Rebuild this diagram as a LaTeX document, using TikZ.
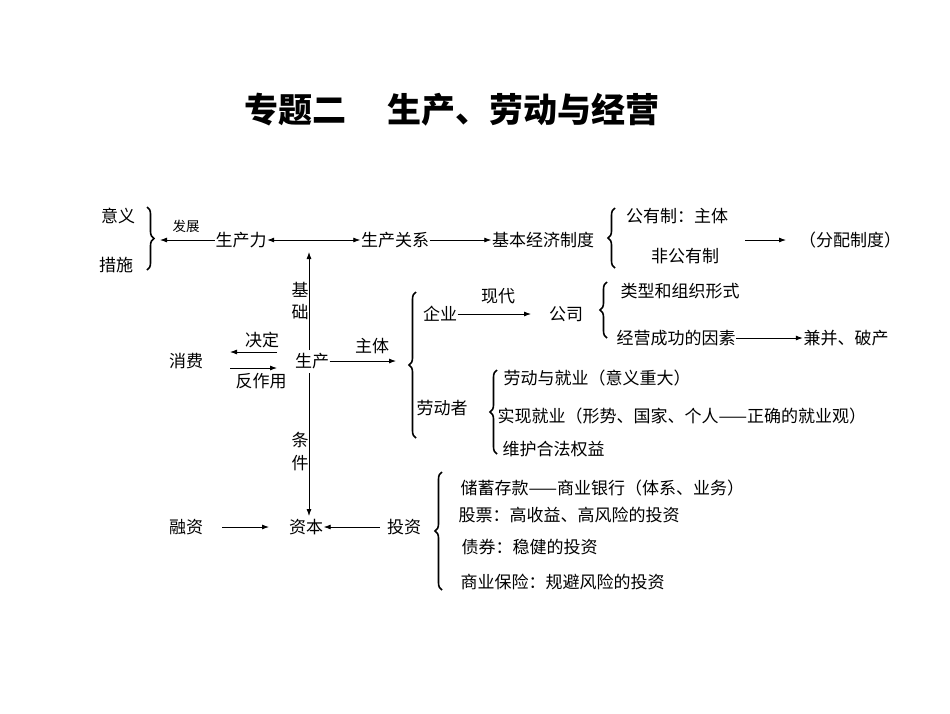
\documentclass[tikz,border=0pt]{standalone}
\usepackage{fontspec}
\setmainfont{Noto Sans CJK SC}
\usetikzlibrary{arrows.meta,decorations.pathreplacing}
\begin{document}
\begin{tikzpicture}[x=1pt,y=-1pt,
  t/.style={font=\fontsize{17}{19}\selectfont,inner sep=0.5pt},
  lt/.style={t,anchor=west},
  sm/.style={font=\fontsize{13.5}{15}\selectfont,inner sep=1pt},
  ar/.style={line width=0.8pt,-{Latex[length=7pt,width=5pt]}},
  da/.style={line width=0.8pt,{Latex[length=7pt,width=5pt]}-{Latex[length=7pt,width=5pt]}},
  br/.style={line width=1.6pt,decorate,decoration={brace,amplitude=7pt}}]
\useasboundingbox (0,0) rectangle (950,713);
\node[font=\fontsize{34}{38}\selectfont\bfseries] (title) at (452,110) {专题二\hspace{1.2em}生产、劳动与经营};
% top row
\node[t] (yy) at (118,216) {意义};
\node[t] (cs) at (116,265) {措施};
\draw[br] (147,207) -- (147,270);
\coordinate (b1) at (160,240);
\node[t] (scl) at (241,240) {生产力};
\draw[ar] (scl.west) -- (b1);
\node[sm] (fz) at (186,226) {发展};
\node[t] (scgx) at (395,240) {生产关系};
\draw[da] (scl.east) -- (scgx.west);
\node[t] (jb) at (543,240) {基本经济制度};
\draw[ar] (scgx.east) -- (jb.west);
\draw[br] (615,268) -- (615,208);
\node[t] (gy) at (677,216) {公有制：主体};
\node[t] (fgy) at (685,256) {非公有制};
\coordinate (a1) at (745,240);
\node[t] (fp) at (850,240) {（分配制度）};
\draw[ar] (a1) -- (786,240);
% production
\node[t] (sc) at (312,361) {生产};
\coordinate (up) at (309,252);
\draw[ar] (309,350) -- (up);
\node[t] (ji) at (300,290) {基};
\node[t] (chu) at (300,312) {础};
\node[t] (xf) at (186,361) {消费};
\coordinate (d1) at (277,352); \coordinate (d2) at (230,352);
\draw[ar] (d1) -- (d2);
\node[t] (jd) at (262,340) {决定};
\coordinate (f1) at (230,368); \coordinate (f2) at (277,368);
\draw[ar] (f1) -- (f2);
\node[t] (fzy) at (261,381) {反作用};
\coordinate (zt) at (396,361);
\draw[ar] (sc.east) -- (zt);
\node[t] (ztl) at (372,346) {主体};
\draw[br] (416,438) -- (416,292);
\node[t] (qy) at (440,314) {企业};
\node[t] (gs) at (566,314) {公司};
\draw[ar] (qy.east) -- (531,314);
\node[t] (xd) at (498,296) {现代};
\draw[br] (607,338) -- (607,282);
\node[lt] (lx) at (620,291) {类型和组织形式};
\node[lt] (jy) at (616,338) {经营成功的因素};
\node[t] (jbp) at (846,338) {兼并、破产};
\draw[ar] (jy.east) -- (jbp.west);
\node[t] (ldz) at (442,408) {劳动者};
\draw[br] (497,454) -- (497,370);
\node[lt] (l1) at (503,378) {劳动与就业（意义重大）};
\node[lt] (l2) at (497,416) {实现就业（形势、国家、个人——正确的就业观）};
\node[lt] (l3) at (502,449) {维护合法权益};
% capital
\node[t] (zb) at (306,527) {资本};
\draw[ar] (309,373) -- (309,516);
\node[t] (tiao) at (300,440) {条};
\node[t] (jian) at (300,463) {件};
\node[t] (rz) at (186,527) {融资};
\coordinate (r1) at (222,527);
\draw[ar] (r1) -- (269,527);
\node[t] (tz) at (404,527) {投资};
\draw[ar] (380,527) -- (zb.east);
\draw[br] (442,590) -- (442,472);
\node[lt] (i1) at (460,488) {储蓄存款——商业银行（体系、业务）};
\node[lt] (i2) at (458,515) {股票：高收益、高风险的投资};
\node[lt] (i3) at (461,547) {债券：稳健的投资};
\node[lt] (i4) at (460,582) {商业保险：规避风险的投资};
\end{tikzpicture}
\end{document}
